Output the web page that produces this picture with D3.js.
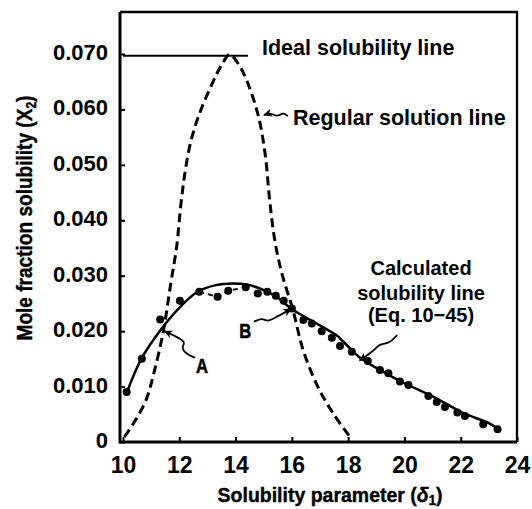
<!DOCTYPE html>
<meta charset="utf-8">
<head>
  <script src="https://d3js.org/d3.v7.min.js"></script>
  <style>
    body { margin: 0; background: #fff; }
    text { font-family: "Liberation Sans", Arial, sans-serif; fill: #000; }
  </style>
</head>
<body>
<svg width="532" height="509"></svg>
<script>
// ---- data ----
// x axis ticks / y axis ticks
var xTicks = [10, 12, 14, 16, 18, 20, 22, 24];
var yTicks = [0, 0.010, 0.020, 0.030, 0.040, 0.050, 0.060, 0.070];

// ideal solubility (horizontal line)
var idealX = [10, 14.44];
var idealY = 0.0697;

// regular solution line (dashed)
var regX = [10.05, 10.45, 10.82, 11.1, 11.43, 11.7, 11.9, 12.06, 12.2, 12.4, 12.7, 13.2, 13.5, 13.79, 14.1, 14.39, 14.8, 15.05, 15.21, 15.39, 15.64, 16.04, 16.4, 16.93, 17.46, 18.07];
var regY = [0.0009, 0.0040, 0.0076, 0.0125, 0.0199, 0.0287, 0.0350, 0.0430, 0.0485, 0.0540, 0.0590, 0.0650, 0.0680, 0.0699, 0.0682, 0.0653, 0.0590, 0.0520, 0.0437, 0.0365, 0.0305, 0.0238, 0.0166, 0.0099, 0.0052, 0.0009];

// calculated solubility line (solid)
var calcX = [10.15, 10.65, 11.35, 12.0, 12.65, 13.3, 13.9, 14.4, 14.86, 15.45, 16.02, 16.8, 17.6, 17.85, 18.4, 19.2, 20.0, 21.05, 22.1, 23.0, 23.35];
var calcY = [0.0091, 0.0150, 0.0203, 0.0242, 0.0271, 0.0283, 0.0286, 0.0284, 0.0277, 0.0262, 0.0239, 0.0216, 0.0192, 0.0180, 0.0153, 0.0128, 0.0106, 0.0081, 0.0052, 0.0034, 0.0023];

// experimental points
var expX = [10.13, 10.67, 11.32, 12.02, 12.71, 13.36, 13.74, 14.36, 14.79, 15.13, 15.43, 15.71, 16.0, 16.41, 16.71, 17.06, 17.42, 17.71, 18.13, 18.7, 19.13, 19.43, 19.84, 20.14, 20.85, 21.15, 21.44, 21.88, 22.15, 22.8, 23.31];
var expY = [0.0090, 0.0150, 0.0221, 0.0255, 0.0271, 0.0262, 0.0273, 0.0279, 0.0268, 0.0271, 0.0264, 0.0255, 0.0241, 0.0220, 0.0214, 0.0200, 0.0188, 0.0173, 0.0163, 0.0146, 0.0130, 0.0124, 0.0109, 0.0103, 0.0083, 0.0072, 0.0063, 0.0053, 0.0047, 0.0032, 0.0023];

// leader lines for the labels (data units)
var leaderReg = [[15.86, 0.0588], [15.69, 0.0595], [15.47, 0.0586], [15.26, 0.0594], [15.01, 0.0590]];
var leaderA = [[12.56, 0.0152], [12.24, 0.0159], [12.06, 0.0171], [12.24, 0.0179], [11.95, 0.0189], [11.47, 0.0200]];
var leaderB = [[14.65, 0.0217], [14.94, 0.0224], [15.12, 0.0217], [15.33, 0.0222], [15.98, 0.0240]];
var leaderCalc = [[19.74, 0.0193], [19.45, 0.0177], [19.1, 0.0177], [18.95, 0.0166], [18.41, 0.0147]];

var svg = d3.select("svg");
var box = {left: 120, right: 517, top: 12, bottom: 442};

var x = d3.scaleLinear().domain([10, 24]).range([123, 517]);
var y = d3.scaleLinear().domain([0, 0.07]).range([442, 54]);

svg.append("defs").append("marker")
    .attr("id", "arr")
    .attr("viewBox", "0 -5 10 10")
    .attr("refX", 9).attr("refY", 0)
    .attr("markerWidth", 9).attr("markerHeight", 9)
    .attr("markerUnits", "userSpaceOnUse")
    .attr("orient", "auto")
  .append("path")
    .attr("d", "M0,-4.5L10,0L0,4.5L3,0Z")
    .attr("fill", "#000");

// axes
var yAxis = d3.axisLeft(y).tickValues(yTicks).tickSize(-5).tickPadding(12)
    .tickFormat(function(d) { return d === 0 ? "0" : d3.format(".3f")(d); });
var gy = svg.append("g").attr("transform", "translate(" + box.left + ",0)").call(yAxis);
gy.select(".domain").remove();
gy.selectAll("line").attr("stroke", "#000").attr("stroke-width", 2);
gy.selectAll("text").style("font-size", "22px").style("font-weight", "bold")
    .attr("dy", "0.32em").attr("y", -1.5);

var xAxis = d3.axisBottom(x).tickValues(xTicks).tickSize(-5).tickPadding(14.5)
    .tickFormat(d3.format("d"));
var gx = svg.append("g").attr("transform", "translate(0," + box.bottom + ")").call(xAxis);
gx.select(".domain").remove();
gx.selectAll("line").attr("stroke", "#000").attr("stroke-width", 2);
gx.selectAll("text").style("font-size", "23px").style("font-weight", "bold");

// frame
svg.append("path")
    .attr("d", "M" + box.left + "," + box.top + "H" + box.right + "V" + box.bottom)
    .attr("fill", "none").attr("stroke", "#000").attr("stroke-width", 2.3);
svg.append("path")
    .attr("d", "M" + box.left + "," + box.top + "V" + box.bottom + "H" + box.right)
    .attr("fill", "none").attr("stroke", "#000").attr("stroke-width", 3);

// ideal line
svg.append("line")
    .attr("x1", x(idealX[0])).attr("x2", x(idealX[1]))
    .attr("y1", y(idealY)).attr("y2", y(idealY))
    .attr("stroke", "#000").attr("stroke-width", 2);

// regular solution line
var regLine = d3.line().x(function(d, i) { return x(regX[i]); }).y(function(d, i) { return y(regY[i]); })
    .curve(d3.curveCatmullRom);
svg.append("path")
    .attr("d", regLine(regX))
    .attr("fill", "none").attr("stroke", "#000").attr("stroke-width", 3)
    .attr("stroke-dasharray", "9,5");

// calculated line
var calcLine = d3.line().x(function(d, i) { return x(calcX[i]); }).y(function(d, i) { return y(calcY[i]); })
    .curve(d3.curveCatmullRom);
svg.append("path")
    .attr("d", calcLine(calcX))
    .attr("fill", "none").attr("stroke", "#000").attr("stroke-width", 2.5);

// short dashed link between the experimental points near the top
var expLine = d3.line().x(function(d) { return x(expX[d]); }).y(function(d) { return y(expY[d]); });
svg.append("path")
    .attr("d", expLine([4, 5, 6, 7]))
    .attr("fill", "none").attr("stroke", "#000").attr("stroke-width", 2)
    .attr("stroke-dasharray", "5,4");

// points
svg.append("g").selectAll("circle")
    .data(expX)
    .enter()
    .append("circle")
    .attr("cx", function(d) { return x(d); })
    .attr("cy", function(d, i) { return y(expY[i]); })
    .attr("r", 4)
    .attr("fill", "#000");

// leaders
var leader = d3.line().x(function(d) { return x(d[0]); }).y(function(d) { return y(d[1]); })
    .curve(d3.curveBasis);
[leaderReg, leaderA, leaderB, leaderCalc].forEach(function(l) {
  svg.append("path")
      .attr("d", leader(l))
      .attr("fill", "none").attr("stroke", "#000").attr("stroke-width", 1.8)
      .attr("marker-end", "url(#arr)");
});

// labels
function label(t, xv, yv, size, anchor) {
  return svg.append("text")
      .attr("x", x(xv)).attr("y", y(yv))
      .attr("text-anchor", anchor || "start")
      .style("font-size", size + "px")
      .style("font-weight", "bold")
      .text(t);
}
label("Ideal solubility line", 14.94, 0.0698, 21.5);
label("Regular solution line", 16.04, 0.0572, 21.5);
label("Calculated", 20.59, 0.0301, 20, "middle");
label("solubility line", 20.59, 0.0256, 20, "middle");
label("(Eq. 10\u221245)", 20.59, 0.0217, 20, "middle");

// narrow bold labels (squeezed horizontally)
function squeeze(t, w) {
  var bw = t.node().getComputedTextLength();
  t.attr("transform", "scale(" + (w / bw) + ",1)");
}
var gA = svg.append("g").attr("transform", "translate(" + x(12.81) + "," + y(0.01245) + ")");
var tA = gA.append("text").attr("text-anchor", "middle").style("font-size", "21px").style("font-weight", "bold")
    .style("stroke", "#000").style("stroke-width", 0.6).text("A");
squeeze(tA, 12);
var gB = svg.append("g").attr("transform", "translate(" + x(14.34) + "," + y(0.01876) + ")");
var tB = gB.append("text").attr("text-anchor", "middle").style("font-size", "21px").style("font-weight", "bold")
    .style("stroke", "#000").style("stroke-width", 0.6).text("B");
squeeze(tB, 12);

// axis titles
var gxt = svg.append("g").attr("transform", "translate(330,502)");
var xt = gxt.append("text").attr("text-anchor", "middle").style("font-size", "21px").style("font-weight", "bold")
    .style("stroke", "#000").style("stroke-width", 0.4);
xt.append("tspan").text("Solubility parameter (");
xt.append("tspan").style("font-style", "italic").text("\u03b4");
xt.append("tspan").attr("dy", 3).style("font-size", "14px").text("1");
xt.append("tspan").attr("dy", -3).text(")");
squeeze(xt, 225);

var gyt = svg.append("g").attr("transform", "translate(32,218) rotate(-90)");
var yt = gyt.append("text").attr("text-anchor", "middle").style("font-size", "22px").style("font-weight", "bold")
    .style("stroke", "#000").style("stroke-width", 0.4);
yt.append("tspan").text("Mole fraction solubility (X");
yt.append("tspan").attr("dy", 4).style("font-size", "14px").text("2");
yt.append("tspan").attr("dy", -4).text(")");
squeeze(yt, 245);
</script>
</body>
</html>
